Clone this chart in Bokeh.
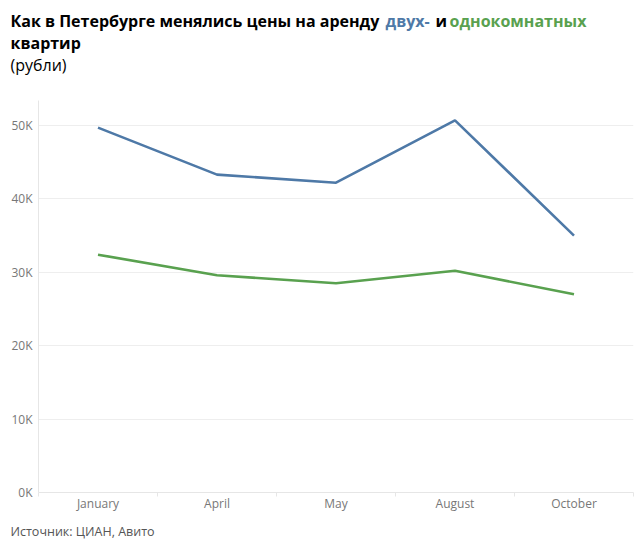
from bokeh.plotting import figure
from bokeh.layouts import column
from bokeh.models import Label, FixedTicker, Range1d
from bokeh.embed import file_html
from bokeh.resources import INLINE

months = ["January", "April", "May", "August", "October"]
two_room = [49700, 43300, 42200, 50700, 35000]
one_room = [32400, 29600, 28500, 30200, 27000]
y_ticks = [0, 10000, 20000, 30000, 40000, 50000]
y_tick_labels = ["0K", "10K", "20K", "30K", "40K", "50K"]

W, H = 642, 549
HEAD_H, FOOT_H = 90, 30
MAIN_H = H - HEAD_H - FOOT_H
BLUE = "#4e79a7"
GREEN = "#59a14f"
FONT = "Open Sans"


def blank(height):
    f = figure(width=W, height=height, output_backend="svg", toolbar_location=None,
               x_range=Range1d(0, W), y_range=Range1d(height, 0),
               x_axis_type=None, y_axis_type=None, frame_align=False,
               min_border_left=0, min_border_right=0, min_border_top=0, min_border_bottom=0)
    f.outline_line_color = None
    f.grid.visible = False
    return f


def lab(f, text, x, y, color="black", bold=True, size="16px"):
    f.add_layout(Label(x=x, y=y, text=text, text_color=color, text_font=FONT,
                       text_font_size=size, text_font_style="bold" if bold else "normal",
                       text_baseline="alphabetic", text_align="left"))


# header
head = blank(HEAD_H)
lab(head, "Как в Петербурге менялись цены на аренду", 10, 20)
lab(head, "двух-", 385, 20, BLUE)
lab(head, "и", 435, 20)
lab(head, "однокомнатных", 449, 20, GREEN)
lab(head, "квартир", 10, 42)
lab(head, "(рубли)", 10, 64, bold=False)

# main chart
xs = list(range(len(months)))
p = figure(width=W, height=MAIN_H, output_backend="svg", toolbar_location=None,
           x_range=Range1d(-0.5, len(months) - 0.5), y_range=Range1d(0, 53400),
           frame_align=False,
           min_border_left=38, min_border_right=9, min_border_top=100 - HEAD_H,
           min_border_bottom=(H - FOOT_H) - 492)
p.outline_line_color = None

p.line(xs, two_room, line_color=BLUE, line_width=2.6)
p.line(xs, one_room, line_color=GREEN, line_width=2.6)

p.yaxis.ticker = FixedTicker(ticks=y_ticks)
p.yaxis.major_label_overrides = {t: l for t, l in zip(y_ticks, y_tick_labels)}
p.yaxis.axis_line_color = "#e6e6e6"
p.yaxis.major_tick_line_color = None
p.yaxis.major_tick_out = 0
p.yaxis.minor_tick_line_color = None
p.yaxis.minor_tick_out = 0
p.yaxis.major_label_text_color = "#777777"
p.yaxis.major_label_text_font = FONT
p.yaxis.major_label_text_font_size = "12px"
p.yaxis.major_label_standoff = 6

p.xaxis.ticker = FixedTicker(ticks=xs, minor_ticks=[i - 0.5 for i in range(len(months) + 1)])
p.xaxis.major_label_overrides = {i: m for i, m in enumerate(months)}
p.xaxis.axis_line_color = "#e6e6e6"
p.xaxis.major_tick_line_color = None
p.xaxis.major_tick_out = 0
p.xaxis.minor_tick_line_color = "#e6e6e6"
p.xaxis.minor_tick_out = 4
p.xaxis.minor_tick_in = 0
p.xaxis.major_label_text_color = "#777777"
p.xaxis.major_label_text_font = FONT
p.xaxis.major_label_text_font_size = "12px"
p.xaxis.major_label_standoff = -2

p.xgrid.grid_line_color = None
p.ygrid.grid_line_color = "#eeeeee"

# footer
foot = blank(FOOT_H)
lab(foot, "Источник: ЦИАН, Авито", 10, 12, color="#555555", bold=False, size="12.5px")

layout = column(head, p, foot, spacing=0)
open("out.html", "w").write(file_html(layout, INLINE))
